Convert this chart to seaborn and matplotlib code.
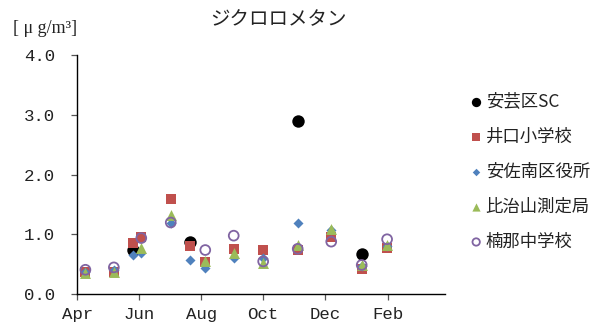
import matplotlib
matplotlib.use("Agg")
import matplotlib.pyplot as plt
import matplotlib.dates as mdates
import pandas as pd
import seaborn as sns

# ---- data -------------------------------------------------------------
title = "ジクロロメタン"
unit_label = "[ μ g/m³]"
stations = ["安芸区SC", "井口小学校", "安佐南区役所", "比治山測定局", "楠那中学校"]

aki_dates = ["2019-05-26", "2019-07-21", "2019-11-04", "2020-01-06"]
aki_values = [0.74, 0.88, 2.90, 0.67]

inokuchi_dates = ["2019-04-09", "2019-05-07", "2019-05-26", "2019-06-03", "2019-07-02",
                  "2019-07-21", "2019-08-05", "2019-09-02", "2019-10-01", "2019-11-04",
                  "2019-12-07", "2020-01-06", "2020-01-31"]
inokuchi_values = [0.38, 0.38, 0.86, 0.96, 1.59, 0.81, 0.54, 0.75, 0.74, 0.74,
                   0.96, 0.43, 0.77]

asaminami_dates = ["2019-04-09", "2019-05-07", "2019-05-26", "2019-06-03", "2019-07-02",
                   "2019-07-21", "2019-08-05", "2019-09-02", "2019-10-01", "2019-11-04",
                   "2019-12-07", "2020-01-06", "2020-01-31"]
asaminami_values = [0.38, 0.40, 0.66, 0.69, 1.20, 0.57, 0.44, 0.60, 0.61, 1.20,
                    1.08, 0.48, 0.80]

hijiyama_dates = ["2019-04-09", "2019-05-07", "2019-06-03", "2019-07-02", "2019-08-05",
                  "2019-09-02", "2019-10-01", "2019-11-04", "2019-12-07", "2020-01-06",
                  "2020-01-31"]
hijiyama_values = [0.36, 0.38, 0.77, 1.33, 0.55, 0.69, 0.52, 0.82, 1.09, 0.49, 0.82]

kusunna_dates = ["2019-04-09", "2019-05-07", "2019-06-03", "2019-07-02", "2019-08-05",
                 "2019-09-02", "2019-10-01", "2019-11-04", "2019-12-07", "2020-01-06",
                 "2020-01-31"]
kusunna_values = [0.41, 0.45, 0.94, 1.20, 0.74, 0.98, 0.55, 0.76, 0.88, 0.49, 0.92]

tick_dates = ["2019-04-01", "2019-06-01", "2019-08-01", "2019-10-01", "2019-12-01", "2020-02-01"]
y_ticks = [0.0, 1.0, 2.0, 3.0, 4.0]

# ---- style ------------------------------------------------------------
sns.set_theme(style="white")
plt.rcParams['font.family'] = ['Liberation Mono', 'Noto Sans CJK JP']
plt.rcParams['axes.unicode_minus'] = False

fig = plt.figure(figsize=(6.10, 3.29), dpi=100)
ax = fig.add_axes([0.1267, 0.1055, 0.6028, 0.7273])

series = [
    (stations[0], aki_dates, aki_values,
     dict(color="black", marker="o", s=80, edgecolor="black", linewidth=0)),
    (stations[1], inokuchi_dates, inokuchi_values,
     dict(color="#C0504D", marker="s", s=52, edgecolor="#C0504D", linewidth=0)),
    (stations[2], asaminami_dates, asaminami_values,
     dict(color="#4F81BD", marker="D", s=26, edgecolor="#4F81BD", linewidth=0)),
    (stations[3], hijiyama_dates, hijiyama_values,
     dict(color="#9BBB59", marker="^", s=62, edgecolor="#9BBB59", linewidth=0)),
    (stations[4], kusunna_dates, kusunna_values,
     dict(color="#8064A2", marker="o", s=50, facecolor="none", edgecolor="#8064A2",
          linewidth=1.3)),
]

for name, dates, values, kw in series:
    df = pd.DataFrame({"date": pd.to_datetime(dates), "value": values})
    sns.scatterplot(data=df, x="date", y="value", ax=ax, label=name, **kw)

# ---- axes -------------------------------------------------------------
ax.set_xlim(pd.Timestamp("2019-04-01"), pd.Timestamp("2020-03-28"))
ax.set_ylim(0, 4.0)
ax.set_xticks(pd.to_datetime(tick_dates))
ax.xaxis.set_major_formatter(mdates.DateFormatter("%b"))
ax.set_yticks(y_ticks)
ax.set_yticklabels([f"{v:.1f}" for v in y_ticks])
ax.set_xlabel("")
ax.set_ylabel("")

for side in ("top", "right"):
    ax.spines[side].set_visible(False)
for side in ("left", "bottom"):
    ax.spines[side].set_color("black")
    ax.spines[side].set_linewidth(1.0)

ax.tick_params(axis="both", which="major", direction="out", length=4, width=0.9,
               color="#555555", labelsize=12.5, labelcolor="#222222")
ax.tick_params(axis="y", pad=12, left=True)
ax.tick_params(axis="x", pad=5, bottom=True)

fig.text(0.457, 0.94, title, ha="center", va="center", fontsize=14,
         family=["Noto Sans CJK JP"], color="#222222")
fig.text(0.022, 0.912, unit_label, ha="left", va="center", fontsize=13,
         family=["Liberation Serif", "Noto Sans CJK JP"], color="#222222")

leg = ax.legend(loc="upper left", bbox_to_anchor=(0.755, 0.74),
                bbox_transform=fig.transFigure, frameon=False, fontsize=12.5,
                markerscale=0.75, handletextpad=0.05, handlelength=1.0,
                labelspacing=0.98, borderaxespad=0)
for t in leg.get_texts():
    t.set_family(["Noto Sans CJK JP"])
    t.set_color("#222222")

fig.savefig("out.png", dpi=100)
